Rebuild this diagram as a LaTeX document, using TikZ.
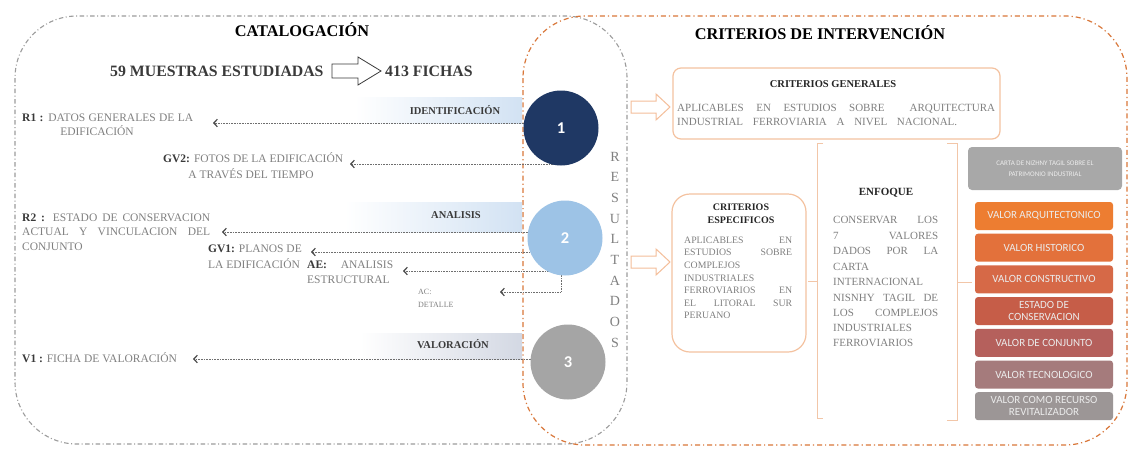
\documentclass[tikz,border=0pt]{standalone}
\usepackage{fontspec}
\setmainfont{Liberation Serif}
\newfontfamily\calib{Carlito}
\usetikzlibrary{arrows.meta,backgrounds,calc}
\definecolor{navy}{HTML}{1F3864}
\definecolor{lblue}{HTML}{9DC3E6}
\definecolor{cgray}{HTML}{A5A5A5}
\definecolor{regray}{HTML}{9C9C9C}
\definecolor{reorange}{HTML}{D9773A}
\definecolor{bandblue}{HTML}{D2E2F3}
\definecolor{bandgray}{HTML}{D3D8E3}
\definecolor{dotgray}{HTML}{6E6E6E}
\definecolor{tipgray}{HTML}{4A4A4A}
\definecolor{txtgray}{HTML}{808080}
\definecolor{lblgray}{HTML}{3A3A3A}
\definecolor{boxor}{HTML}{F4C2A0}
\definecolor{brkor}{HTML}{F2C6A8}
\definecolor{arror}{HTML}{F4BE9A}
\definecolor{gbox}{HTML}{A8A8A8}
\definecolor{vca}{HTML}{ED7D31}
\definecolor{vcb}{HTML}{E3713B}
\definecolor{vcc}{HTML}{D66947}
\definecolor{vcd}{HTML}{C65D48}
\definecolor{vce}{HTML}{B5605C}
\definecolor{vcf}{HTML}{A57B7C}
\definecolor{vcg}{HTML}{9C9696}
\newcommand\tl[4]{\node[anchor=base west,inner sep=0pt,font=#1] (#2) at (#3) {#4};}
\newcommand\tc[4]{\node[anchor=base,inner sep=0pt,font=#1] (#2) at (#3) {#4};}
\newcommand\fs[1]{\fontsize{#1}{#1}\selectfont}
\begin{document}
\begin{tikzpicture}[x=1pt,y=-1pt,
  numcirc/.style={circle,inner sep=0pt,minimum size=75pt,text=white,font=\calib\bfseries\fs{16.5}},
  dotarr/.style={draw=dotgray,line width=0.8pt,dash pattern=on 0.8pt off 0.8pt,
     -{Straight Barb[length=3.5pt,width=7.5pt,line width=1.2pt,color=tipgray]}},
  grayreg/.style={draw=regray,line width=1.1pt,dash pattern=on 4.5pt off 2.5pt on 1pt off 2.5pt,rounded corners=62pt},
  orreg/.style={draw=reorange,line width=1.2pt,dash pattern=on 5pt off 3pt on 1.2pt off 3pt,rounded corners=62pt},
  critbox/.style={draw=boxor,line width=1.2pt,inner sep=0pt},
  brk/.style={draw=brkor,line width=0.9pt},
  valbox/.style={rounded corners=3pt,inner sep=0pt,minimum width=138pt,minimum height=28pt,align=center,
     text=white!92!black,font=\calib\fontsize{11}{12.5}\selectfont},
  lettr/.style={inner sep=0pt,text=txtgray,font=\fs{14}}
]
\useasboundingbox (0,0) rectangle (1130,448);

% circles
\node[numcirc,fill=navy] (c1) at (561,128) {1};
\node[numcirc,fill=lblue] (c2) at (565,238) {2};
\node[numcirc,fill=cgray] (c3) at (568,362) {3};

\coordinate (r1tip) at (213,123);
\coordinate (gv2tip) at (350,164);
\coordinate (r2tip) at (222,232);
\coordinate (gv1tip) at (311,252);
\coordinate (aetip) at (403,271);
\coordinate (actip) at (500,292);
\coordinate (v1tip) at (193,359);

\begin{scope}[on background layer]
  \fill[white] (0,0) rectangle (1130,448);
  \draw[grayreg] (15,16) rectangle (627,444);
  \draw[orreg] (523,16) rectangle (1127,445);
  % bands
  \shade[left color=white,right color=bandblue] (355,97) rectangle (522,123);
  \shade[left color=white,right color=bandblue] (345,202) rectangle (522,232);
  \shade[left color=white,right color=bandgray] (360,333) rectangle (522,359);
  % connectors
  \draw[dotarr] (c1 |- r1tip) -- (r1tip);
  \draw[dotarr] (c1 |- gv2tip) -- (gv2tip);
  \draw[dotarr] (c2 |- r2tip) -- (r2tip);
  \draw[dotarr] (c2 |- gv1tip) -- (gv1tip);
  \draw[dotarr] (c2 |- aetip) -- (aetip);
  \draw[dotarr] ([xshift=-4pt]c2.center) |- (actip);
  \draw[dotarr] (c3 |- v1tip) -- (v1tip);
\end{scope}

% titles
\tc{\bfseries\fs{16.3}}{tcat}{302,36}{CATALOGACIÓN}
\tc{\bfseries\fs{16.3}}{tcri}{820,39}{CRITERIOS DE INTERVENCIÓN}
\tl{\bfseries\fs{15.8}\color{lblgray}}{tmue}{110,76}{59 MUESTRAS ESTUDIADAS}
\tl{\bfseries\fs{15.8}\color{lblgray}}{tfic}{385,76}{413 FICHAS}
\draw[draw=lblgray,line width=0.8pt] (332,64)--(358,64)--(358,57)--(381,71)--(358,85)--(358,78)--(332,78)--cycle;

% band labels
\tc{\bfseries\fs{10.5}\color{lblgray}}{lid}{455,114.5}{IDENTIFICACIÓN}
\tc{\bfseries\fs{10.5}\color{lblgray}}{lan}{456,218.5}{ANALISIS}
\tc{\bfseries\fs{10.5}\color{lblgray}}{lva}{453,348.5}{VALORACIÓN}

% left texts
\tl{\fs{11.5}\color{txtgray}}{r1a}{22,121.8}{\makebox[171pt][s]{\textcolor{lblgray}{\bfseries R1 :} DATOS GENERALES DE LA}}
\tc{\fs{11.5}\color{txtgray}}{r1b}{97,135.8}{EDIFICACIÓN}
\tl{\fs{11.5}\color{txtgray}}{g2a}{163,162.8}{\makebox[180pt][s]{\textcolor{lblgray}{\bfseries GV2:} FOTOS DE LA EDIFICACIÓN}}
\tc{\fs{11.5}\color{txtgray}}{g2b}{251,178.8}{A TRAVÉS DEL TIEMPO}
\tl{\fs{11.5}\color{txtgray}}{r2a}{22,221.8}{\makebox[188pt][s]{\textcolor{lblgray}{\bfseries R2 :} ESTADO DE CONSERVACION}}
\tl{\fs{11.5}\color{txtgray}}{r2b}{22,235.8}{\makebox[188pt][s]{ACTUAL Y VINCULACION DEL}}
\tl{\fs{11.5}\color{txtgray}}{r2c}{22,250.8}{CONJUNTO}
\tl{\fs{11.5}\color{txtgray}}{g1a}{208,252.8}{\textcolor{lblgray}{\bfseries GV1:} PLANOS DE}
\tl{\fs{11.5}\color{txtgray}}{g1b}{208,268.8}{LA EDIFICACIÓN}
\tl{\fs{11.5}\color{txtgray}}{aea}{307,268.8}{\makebox[86pt][s]{\textcolor{lblgray}{\bfseries AE:} ANALISIS}}
\tl{\fs{11.5}\color{txtgray}}{aeb}{307,283.8}{ESTRUCTURAL}
\tl{\fs{8}\color{txtgray}}{aca}{418,294.6}{AC:}
\tl{\fs{8}\color{txtgray}}{acb}{418,307.6}{DETALLE}
\tl{\fs{11.5}\color{txtgray}}{v1a}{22,362.8}{\textcolor{lblgray}{\bfseries V1 :} FICHA DE VALORACIÓN}

% RESULTADOS
\node[lettr] (la1) at (615,156.5) {R};
\node[lettr] (la2) at (615,177.2) {E};
\node[lettr] (la3) at (615,197.9) {S};
\node[lettr] (la4) at (615,218.6) {U};
\node[lettr] (la5) at (615,239.3) {L};
\node[lettr] (la6) at (615,260.0) {T};
\node[lettr] (la7) at (615,280.7) {A};
\node[lettr] (la8) at (615,301.4) {D};
\node[lettr] (la9) at (615,322.1) {O};
\node[lettr] (la10) at (615,342.8) {S};

% block arrows to criteria
\draw[draw=arror,line width=1pt] (631,101)--(656,101)--(656,94)--(670,107)--(656,120)--(656,113)--(631,113)--cycle;
\draw[draw=arror,line width=1pt] (631,256)--(656,256)--(656,249)--(670,262)--(656,275)--(656,268)--(631,268)--cycle;

% criterios generales
\node[critbox,rounded corners=8pt,minimum width=327pt,minimum height=71pt] (cg) at (836.5,103.5) {};
\tc{\bfseries\fs{10.5}\color{black!85}}{cgt}{833,87.5}{CRITERIOS GENERALES}
\tl{\fs{11}\color{txtgray}}{cg1}{677,111.6}{\makebox[318pt][s]{APLICABLES EN ESTUDIOS SOBRE \ ARQUITECTURA}}
\tl{\fs{11}\color{txtgray}}{cg2}{677,125.6}{\makebox[280pt][s]{INDUSTRIAL FERROVIARIA A NIVEL NACIONAL.}}

% criterios especificos
\node[critbox,rounded corners=18pt,minimum width=134pt,minimum height=158pt] (ce) at (739,273) {};
\tc{\bfseries\fs{10}\color{black!85}}{cet1}{741,210.3}{CRITERIOS}
\tc{\bfseries\fs{10}\color{black!85}}{cet2}{741,223.3}{ESPECIFICOS}
\tl{\fs{9.8}\color{txtgray}}{ce1}{684,243.2}{\makebox[108pt][s]{APLICABLES EN}}
\tl{\fs{9.8}\color{txtgray}}{ce2}{684,255.8}{\makebox[108pt][s]{ESTUDIOS SOBRE}}
\tl{\fs{9.8}\color{txtgray}}{ce3}{684,268.4}{COMPLEJOS}
\tl{\fs{9.8}\color{txtgray}}{ce4}{684,281}{INDUSTRIALES}
\tl{\fs{9.8}\color{txtgray}}{ce5}{684,293.6}{\makebox[108pt][s]{FERROVIARIOS EN}}
\tl{\fs{9.8}\color{txtgray}}{ce6}{684,306.2}{\makebox[108pt][s]{EL LITORAL SUR}}
\tl{\fs{9.8}\color{txtgray}}{ce7}{684,318.8}{PERUANO}

% enfoque brackets
\draw[brk] (823,143) -- (817,143) -- (817,418) -- (823,418);
\draw[brk] (808,281) -- (817,281);
\draw[brk] (947,143) -- (957,143) -- (957,420) -- (947,420);
\draw[brk] (957,282) -- (972,282);
\tc{\bfseries\fs{11}\color{black!85}}{ent}{886,195.6}{ENFOQUE}
\tl{\fs{11}\color{txtgray}}{en1}{833,223.6}{\makebox[105pt][s]{CONSERVAR LOS}}
\tl{\fs{11}\color{txtgray}}{en2}{833,239.6}{\makebox[105pt][s]{7 VALORES}}
\tl{\fs{11}\color{txtgray}}{en3}{833,254.6}{\makebox[105pt][s]{DADOS POR LA}}
\tl{\fs{11}\color{txtgray}}{en4}{833,270.6}{CARTA}
\tl{\fs{11}\color{txtgray}}{en5}{833,285.6}{INTERNACIONAL}
\tl{\fs{11}\color{txtgray}}{en6}{833,301.6}{\makebox[105pt][s]{NISNHY TAGIL DE}}
\tl{\fs{11}\color{txtgray}}{en7}{833,316.6}{\makebox[105pt][s]{LOS COMPLEJOS}}
\tl{\fs{11}\color{txtgray}}{en8}{833,331.6}{INDUSTRIALES}
\tl{\fs{11}\color{txtgray}}{en9}{833,346.6}{FERROVIARIOS}

% values
\node[fill=gbox,rounded corners=4pt,inner sep=0pt,minimum width=154pt,minimum height=43pt,align=center,
  text=white!85!gray,font=\calib\fontsize{7}{11}\selectfont] (carta) at (1045,168.5) {CARTA DE NIZHNY TAGIL SOBRE EL\\PATRIMONIO INDUSTRIAL};
\node[valbox,fill=vca] (va) at (1044,216) {VALOR ARQUITECTONICO};
\node[valbox,fill=vcb] (vb) at (1044,247.7) {VALOR HISTORICO};
\node[valbox,fill=vcc] (vcx) at (1044,279.4) {VALOR CONSTRUCTIVO};
\node[valbox,fill=vcd] (vd) at (1044,311.1) {ESTADO DE\\CONSERVACION};
\node[valbox,fill=vce] (ve) at (1044,342.8) {VALOR DE CONJUNTO};
\node[valbox,fill=vcf] (vf) at (1044,374.5) {VALOR TECNOLOGICO};
\node[valbox,fill=vcg] (vg) at (1044,406.2) {VALOR COMO RECURSO\\REVITALIZADOR};
\end{tikzpicture}
\end{document}
